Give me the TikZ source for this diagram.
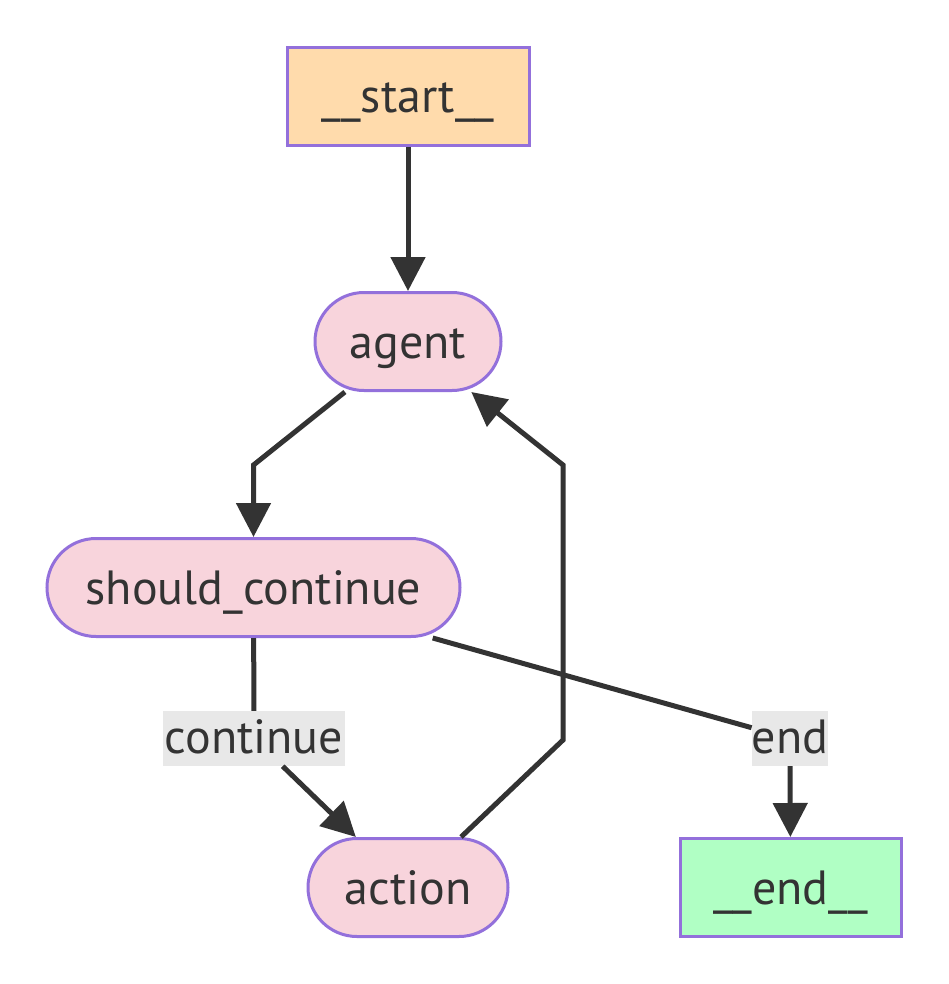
\documentclass[tikz,border=0pt]{standalone}
\usepackage{fontspec}
\setmainfont{PT Sans}
\usetikzlibrary{arrows.meta}
\definecolor{ink}{RGB}{51,51,51}
\definecolor{nodeline}{RGB}{147,112,219}
\definecolor{pinkfill}{RGB}{248,212,220}
\definecolor{peachfill}{RGB}{255,219,172}
\definecolor{greenfill}{RGB}{176,255,196}
\definecolor{labelfill}{RGB}{232,232,232}
\tikzset{
  base/.style={draw=nodeline, line width=3pt, text=ink, inner sep=0pt,
    font=\fontsize{48}{56}\selectfont, minimum height=98pt,
    text height=40pt, text depth=7pt},
  termbox/.style={base, rectangle},
  stadium/.style={base, rectangle, rounded corners=49pt},
  edgelabel/.style={fill=labelfill, text=ink, inner xsep=0pt, inner ysep=0pt,
    minimum height=55pt, font=\fontsize{48}{56}\selectfont,
    text height=36pt, text depth=7pt},
  flow/.style={draw=ink, line width=5pt, -{Triangle[length=34pt,width=34pt]}},
}
\begin{document}
\begin{tikzpicture}[x=1pt,y=-1pt]
  \useasboundingbox (0,0) rectangle (948,984);

  % nodes
  \node[termbox, fill=peachfill, minimum width=242pt] (start) at (408,96.5) {\_\_start\_\_};
  \node[stadium, fill=pinkfill, minimum width=186pt] (agent) at (408,341.5) {agent};
  \node[stadium, fill=pinkfill, minimum width=413pt] (should) at (253.5,587.5) {should\_continue};
  \node[stadium, fill=pinkfill, minimum width=200pt] (action) at (408,887.5) {action};
  \node[termbox, fill=greenfill, minimum width=221pt] (finish) at (790.5,887.5) {\_\_end\_\_};

  % edge labels
  \node[edgelabel, minimum width=182pt] (lcont) at (254,738.5) {continue};
  \node[edgelabel, minimum width=76pt] (lend) at (790,738.5) {end};

  % bend points
  \coordinate (b1) at (253.5,465);
  \coordinate (b2) at (563,740);
  \coordinate (b3) at (563,465);

  % edges
  \draw[flow] (start) -- (agent);
  \draw[flow] (agent) -- (b1) -- (should);
  \draw[flow] (action) -- (b2) -- (b3) -- (agent);
  \draw[draw=ink, line width=5pt] (should) -- (lcont);
  \draw[flow] (lcont) -- (action);
  \draw[draw=ink, line width=5pt] (should) -- (lend);
  \draw[flow] (lend) -- (finish);
\end{tikzpicture}
\end{document}
